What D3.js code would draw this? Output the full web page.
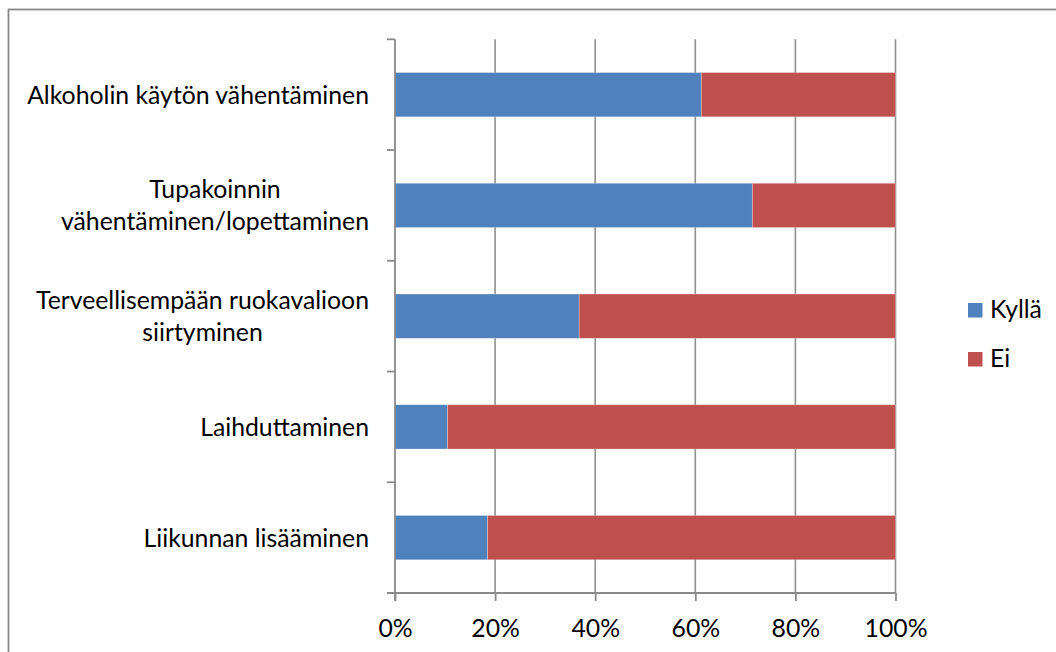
<!DOCTYPE html>
<html>
<head>
<meta charset="utf-8">
<script src="https://cdn.jsdelivr.net/npm/d3@7"></script>
<style>
  html, body { margin: 0; padding: 0; background: #ffffff; }
  svg { display: block; }
</style>
</head>
<body>
<svg id="chart" width="1056" height="652"></svg>
<script>
// ---- data ----
const categories = [
  "Alkoholin käytön vähentäminen",
  "Tupakoinnin\nvähentäminen/lopettaminen",
  "Terveellisempään ruokavalioon\nsiirtyminen",
  "Laihduttaminen",
  "Liikunnan lisääminen"
];
const seriesNames = ["Kyllä", "Ei"];
const kyllaValues = [61.2, 71.4, 36.8, 10.5, 18.5];
const eiValues = [38.8, 28.6, 63.2, 89.5, 81.5];
const xTickValues = [0, 20, 40, 60, 80, 100];
const colors = ["#4F81BD", "#C0504D"];

// ---- layout ----
const svg = d3.select("#chart");
const W = 1056, H = 652;
const plot = { left: 395, right: 895.5, top: 39.3, bottom: 593 };
const fontFamily = "Lato, 'Open Sans', 'Liberation Sans', sans-serif";

// fit font size so that the widest single-line label matches the reference width
const probe = svg.append("text").attr("font-family", fontFamily).attr("font-size", 100)
  .text("Alkoholin käytön vähentäminen");
const probeW = probe.node().getComputedTextLength();
probe.remove();
const fs = 100 * 342 / probeW;

// outer border
svg.append("rect")
  .attr("x", 8.5).attr("y", 9.5)
  .attr("width", W + 20).attr("height", H + 20)
  .attr("fill", "#ffffff").attr("stroke", "#898989").attr("stroke-width", 1.8);

const x = d3.scaleLinear().domain([0, 100]).range([plot.left, plot.right]);
const y = d3.scaleBand().domain(categories).range([plot.top, plot.bottom])
  .paddingInner(0.6).paddingOuter(0.3);

const rows = categories.map((c, i) => ({ cat: c, "Kyllä": kyllaValues[i], "Ei": eiValues[i] }));
const stacked = d3.stack().keys(seriesNames)(rows);

// vertical gridlines
svg.append("g").selectAll("line").data(xTickValues.filter(v => v > 0)).join("line")
  .attr("x1", d => x(d)).attr("x2", d => x(d))
  .attr("y1", plot.top).attr("y2", plot.bottom)
  .attr("stroke", "#8f8f8f").attr("stroke-width", 1.6);

// bars
svg.append("g").selectAll("g").data(stacked).join("g")
  .attr("fill", (d, i) => colors[i])
  .selectAll("rect").data(d => d).join("rect")
  .attr("x", d => x(d[0]))
  .attr("width", d => x(d[1]) - x(d[0]))
  .attr("y", d => y(d.data.cat))
  .attr("height", y.bandwidth())
  .attr("stroke", "rgba(255,255,255,0.35)").attr("stroke-width", 0.8);

// x axis
const xAxis = d3.axisBottom(x).tickValues(xTickValues).tickSize(8).tickFormat(d => d + "%");
const gx = svg.append("g").attr("transform", `translate(0,${plot.bottom})`).call(xAxis);
gx.select(".domain").remove();
gx.append("line").attr("x1", plot.left - 8).attr("x2", plot.right).attr("y1", 0).attr("y2", 0)
  .attr("stroke", "#8a8a8a").attr("stroke-width", 1.8);
gx.selectAll(".tick line").attr("stroke", "#8a8a8a").attr("stroke-width", 1.8);
gx.selectAll(".tick text")
  .attr("font-family", fontFamily).attr("font-size", fs).attr("fill", "#000")
  .attr("y", 44).attr("dy", 0);

// y axis line and boundary ticks
const gy = svg.append("g");
gy.append("line").attr("x1", plot.left).attr("x2", plot.left)
  .attr("y1", plot.top).attr("y2", plot.bottom + 8)
  .attr("stroke", "#8a8a8a").attr("stroke-width", 1.8);
const step = y.step();
const bounds = d3.range(categories.length + 1).map(i => plot.top + i * step * (plot.bottom - plot.top) / (step * categories.length));
gy.selectAll("line.t").data(bounds).join("line").attr("class", "t")
  .attr("x1", plot.left - 8).attr("x2", plot.left)
  .attr("y1", d => d).attr("y2", d => d)
  .attr("stroke", "#8a8a8a").attr("stroke-width", 1.8);

// category labels: block right-aligned at 369, lines centered within block
const lineH = 32;
categories.forEach(c => {
  const lines = c.split("\n");
  const cy = y(c) + y.bandwidth() / 2;
  const t = svg.append("text").attr("font-family", fontFamily).attr("font-size", fs)
    .attr("fill", "#000").attr("text-anchor", "middle");
  const spans = lines.map((ln, i) => t.append("tspan").text(ln)
    .attr("y", cy + (i - (lines.length - 1) / 2) * lineH).attr("dy", "0.36em"));
  const maxW = d3.max(spans, s => s.node().getComputedTextLength());
  const centerX = 369 - maxW / 2;
  spans.forEach(s => s.attr("x", centerX));
});

// legend
const legendY = [303, 352];
seriesNames.forEach((name, i) => {
  svg.append("rect").attr("x", 968).attr("y", legendY[i]).attr("width", 14.5).attr("height", 14.5)
    .attr("fill", colors[i]);
  svg.append("text").attr("x", 990).attr("y", legendY[i] + 14.5)
    .attr("font-family", fontFamily).attr("font-size", fs).attr("fill", "#000").text(name);
});
</script>
</body>
</html>
